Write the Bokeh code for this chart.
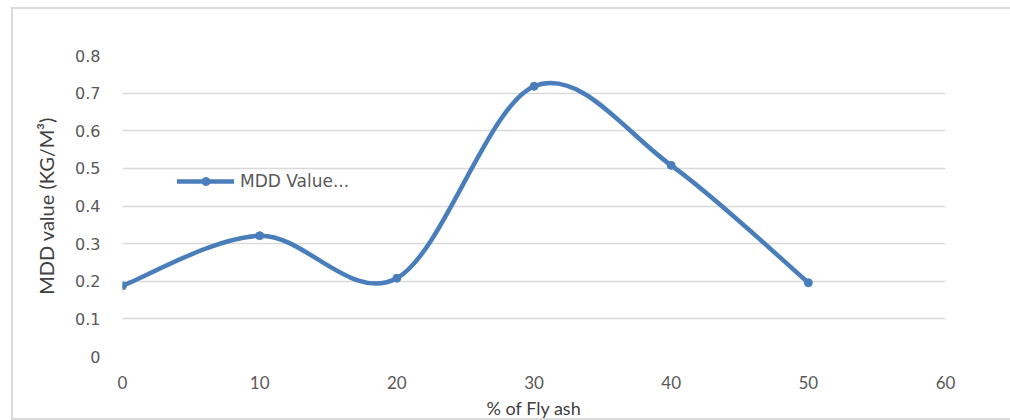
import numpy as np
from bokeh.plotting import figure
from bokeh.models import Legend, LegendItem, Range1d, FixedTicker, ColumnDataSource
from bokeh.embed import file_html
from bokeh.resources import INLINE

# Maximum dry density against fly ash content
fly_ash_pct = [0, 10, 20, 30, 40, 50]
mdd_value = [0.188, 0.321, 0.208, 0.718, 0.508, 0.196]

x_ticks = [0, 10, 20, 30, 40, 50, 60]
y_ticks = [0, 0.1, 0.2, 0.3, 0.4, 0.5, 0.6, 0.7, 0.8]
y_tick_labels = ["0", "0.1", "0.2", "0.3", "0.4", "0.5", "0.6", "0.7", "0.8"]

series_label = "MDD Value..."
x_title = "% of Fly ash"
y_title = "MDD value (KG/M\u00b3)"

BLUE = "#4a7ebb"
GRID = "#d9d9d9"
TICK_TEXT = "#595959"
TITLE_TEXT = "#404040"

# Smoothed line: one cubic Bezier per interval, control points taken
# from neighbouring points (Catmull-Rom style, tension 1/6)
x = np.array(fly_ash_pct, dtype=float)
y = np.array(mdd_value, dtype=float)
n = len(x)
xp = np.concatenate([[x[0]], x, [x[-1]]])
yp = np.concatenate([[y[0]], y, [y[-1]]])
seg = ColumnDataSource(dict(
    x0=x[:-1], y0=y[:-1], x1=x[1:], y1=y[1:],
    cx0=x[:-1] + (xp[2:n + 1] - xp[0:n - 1]) / 6.0,
    cy0=y[:-1] + (yp[2:n + 1] - yp[0:n - 1]) / 6.0,
    cx1=x[1:] - (xp[3:n + 2] - xp[1:n]) / 6.0,
    cy1=y[1:] - (yp[3:n + 2] - yp[1:n]) / 6.0,
))
pts = ColumnDataSource(dict(x=fly_ash_pct, y=mdd_value))

# Canvas sits inside a light border (left, top and bottom edges)
p = figure(width=997, height=409, output_backend="svg", toolbar_location=None,
           x_range=Range1d(0, 60), y_range=Range1d(0, 0.8),
           min_border_left=109, min_border_right=67,
           min_border_top=46, min_border_bottom=66)
p.styles = {
    "box-sizing": "content-box",
    "margin-left": "11px",
    "margin-top": "7px",
    "border-left": f"2px solid {GRID}",
    "border-top": f"2px solid {GRID}",
    "border-bottom": f"2px solid {GRID}",
    "border-right": "none",
}
p.outline_line_color = None
p.background_fill_color = "white"
p.border_fill_color = "white"

p.xgrid.visible = False
p.ygrid.grid_line_color = GRID
p.ygrid.grid_line_width = 1.5
p.ygrid.ticker = FixedTicker(ticks=y_ticks)

for ax in (p.xaxis[0], p.yaxis[0]):
    ax.axis_line_color = None
    ax.major_tick_line_color = None
    ax.minor_tick_line_color = None
    ax.major_tick_out = 0
    ax.major_tick_in = 0
    ax.minor_tick_out = 0
    ax.major_label_text_color = TICK_TEXT
    ax.axis_label_text_color = TITLE_TEXT
    ax.axis_label_text_font_style = "normal"

p.xaxis.ticker = FixedTicker(ticks=x_ticks)
p.xaxis.major_label_text_font = "Lato"
p.xaxis.major_label_text_font_size = "17px"
p.xaxis.major_label_standoff = 19
p.xaxis.axis_label = x_title
p.xaxis.axis_label_text_font = "Lato"
p.xaxis.axis_label_text_font_size = "18px"
p.xaxis.axis_label_standoff = 5

p.yaxis.ticker = FixedTicker(ticks=y_ticks)
p.yaxis.major_label_overrides = {t: s for t, s in zip(y_ticks, y_tick_labels)}
p.yaxis.major_label_text_font = "DejaVu Sans"
p.yaxis.major_label_text_font_size = "16px"
p.yaxis.major_label_standoff = 22
p.yaxis.axis_label = y_title
p.yaxis.axis_label_text_font = "Lato"
p.yaxis.axis_label_text_font_size = "20px"
p.yaxis.axis_label_standoff = 14

curve = p.bezier(x0="x0", y0="y0", x1="x1", y1="y1", cx0="cx0", cy0="cy0",
                 cx1="cx1", cy1="cy1", source=seg, line_color=BLUE,
                 line_width=4.5, line_cap="round")
marks = p.scatter("x", "y", source=pts, size=8, marker="circle",
                  fill_color=BLUE, line_color=BLUE)

legend = Legend(items=[LegendItem(label=series_label, renderers=[curve, marks])],
                location=(55, 165), orientation="vertical",
                glyph_width=57, glyph_height=20, label_standoff=6,
                padding=0, margin=0, border_line_alpha=0,
                background_fill_alpha=0,
                label_text_font="DejaVu Sans", label_text_font_size="17px",
                label_text_color=TICK_TEXT)
p.add_layout(legend, "center")

open("out.html", "w").write(file_html(p, INLINE))
